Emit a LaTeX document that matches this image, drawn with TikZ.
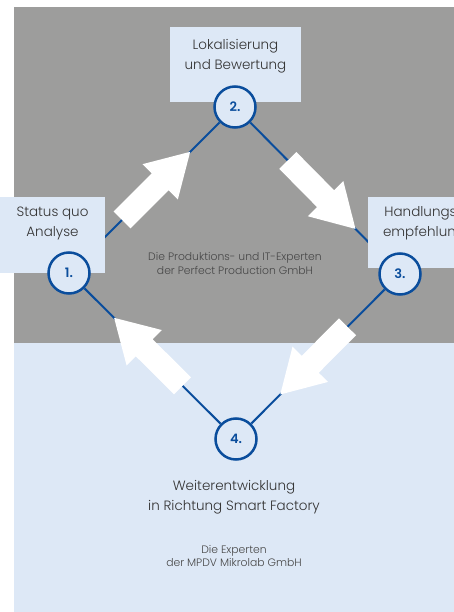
\documentclass[tikz,border=0pt]{standalone}
\usepackage{fontspec}
\setmainfont{Poppins}[UprightFont=* Light, BoldFont=* SemiBold]
\usetikzlibrary{calc}
\definecolor{bggray}{HTML}{9D9D9C}
\definecolor{lblue}{HTML}{DDE8F6}
\definecolor{dblue}{HTML}{0A4D9C}
\definecolor{txt}{HTML}{333333}
\definecolor{txtmid}{HTML}{474747}
\pgfdeclarelayer{back}
\pgfdeclarelayer{mid}
\pgfsetlayers{back,mid,main}
\newcommand\fatarrow[2]{%
 \coordinate (T) at ($(#1)!0.32!(#2)$);
 \coordinate (P) at ($(#1)!0.73!(#2)$);
 \coordinate (H) at ($(P)!42.5pt!(T)$);
 \fill[white] ($(T)!12pt!90:(P)$) -- ($(H)!12pt!90:(P)$) -- ($(H)!25pt!90:(P)$) -- (P)
   -- ($(H)!25pt!-90:(P)$) -- ($(H)!12pt!-90:(P)$) -- ($(T)!12pt!-90:(P)$) -- cycle;}
\tikzset{
  stepcircle/.style={circle, draw=dblue, line width=2.5pt, fill=lblue, minimum size=41pt, inner sep=0pt,
     text=dblue, font=\bfseries\fontsize{13}{13}\selectfont},
  labelbox/.style={fill=lblue, inner sep=0pt, anchor=north west},
  bigtext/.style={align=center, text=txt, font=\fontsize{13.5}{20.5}\selectfont},
  smalltext/.style={align=center, text=txtmid, font=\fontsize{10.8}{13.5}\selectfont},
  link/.style={draw=dblue, line width=2pt}
}
\begin{document}
\begin{tikzpicture}[x=1pt,y=-1pt]
\useasboundingbox (0,0) rectangle (454,612);
\begin{pgfonlayer}{back}
\fill[bggray] (14,7) rectangle (454,343);
\fill[lblue] (14,343) rectangle (454,612);
\end{pgfonlayer}
% boxes
\node[labelbox, minimum width=131pt, minimum height=75pt] (box2) at (170,27) {};
\node[labelbox, minimum width=105pt, minimum height=76pt] (box1) at (0,197) {};
\node[labelbox, minimum width=112pt, minimum height=71pt] (box3) at (368,197) {};
\node[bigtext] (t2) at (235.5,56) {Lokalisierung\\und Bewertung};
\node[bigtext] (t1) at (52.5,223.5) {Status quo\\Analyse};
\node[bigtext] (t3) at (424,223.5) {Handlungs-\\empfehlung};
% circles
\node[stepcircle] (c1) at (69,273) {1.};
\node[stepcircle] (c2) at (235,107) {2.};
\node[stepcircle] (c3) at (400,274) {3.};
\node[stepcircle] (c4) at (236,439) {4.};
% connectors and arrows
\begin{pgfonlayer}{mid}
\draw[link] (c1) -- (c2);
\draw[link] (c2) -- (c3);
\draw[link] (c3) -- (c4);
\draw[link] (c4) -- (c1);
\fatarrow{c1}{c2}
\fatarrow{c2}{c3}
\fatarrow{c3}{c4}
\fatarrow{c4}{c1}
\end{pgfonlayer}
% texts
\node[smalltext] (ppt) at (235,263.5) {Die Produktions- und IT-Experten\\der Perfect Production GmbH};
\node[bigtext] (t4) at (234,497) {Weiterentwicklung\\in Richtung Smart Factory};
\node[smalltext] (mpdv) at (234,556) {Die Experten\\der MPDV Mikrolab GmbH};
\end{tikzpicture}
\end{document}
